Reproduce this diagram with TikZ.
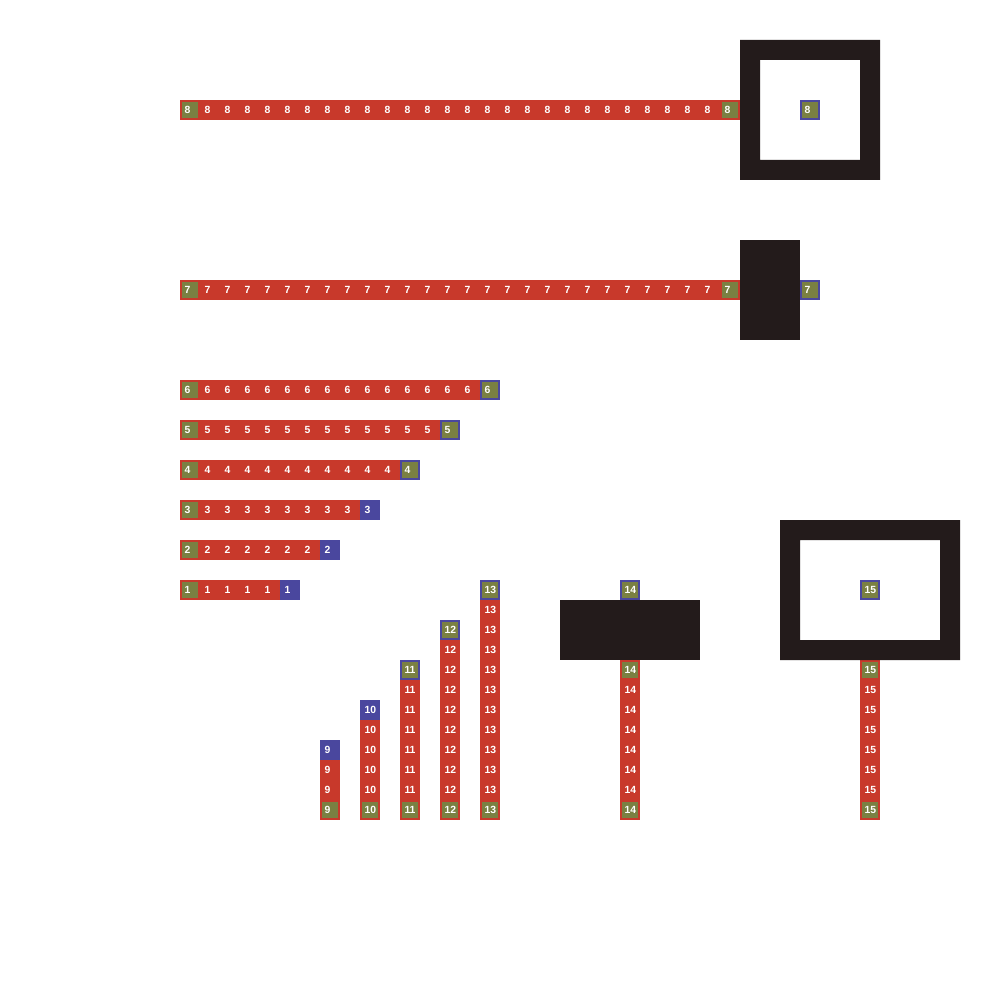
\documentclass[tikz,border=0pt]{standalone}
\usepackage{fontspec}
\setmainfont{Liberation Sans}
\definecolor{cred}{HTML}{C8392B}
\definecolor{colive}{HTML}{7A8042}
\definecolor{cblue}{HTML}{4A479E}
\definecolor{cdark}{HTML}{231B1B}
\begin{document}
\begin{tikzpicture}[x=0.5pt,y=-0.5pt,
 base/.style={minimum size=9pt, inner sep=0pt, line width=1pt, text=white,
   text width=5.5pt, align=left, text height=3.7pt, text depth=0pt,
   font=\fontsize{5.2}{5.2}\selectfont\bfseries},
 rc/.style={base, fill=cred, draw=cred},
 sc/.style={base, fill=colive, draw=cred},
 ec/.style={base, fill=colive, draw=cblue},
 bc/.style={base, fill=cblue, draw=cblue},
 blk/.style={fill=cdark, draw=none}]
\useasboundingbox (0,0) rectangle (1000,1000);
% horizontal rows 1..6
\foreach \k in {1,...,6}{
  \pgfmathtruncatemacro{\yy}{580-(\k-1)*40+10}
  \pgfmathtruncatemacro{\n}{4+2*\k}
  \pgfmathtruncatemacro{\last}{\n-1}
  \pgfmathtruncatemacro{\pen}{\n-2}
  \node[sc] (r\k-0) at (190,\yy) {\k};
  \foreach \i in {1,...,\pen}{
    \node[rc] (r\k-\i) at (190+20*\i,\yy) {\k};
  }
  \ifnum\k<4
    \node[bc] (r\k-\last) at (190+20*\last,\yy) {\k};
  \else
    \node[ec] (r\k-\last) at (190+20*\last,\yy) {\k};
  \fi
}
% rows 7 and 8
\foreach \k/\yy in {7/290,8/110}{
  \node[sc] (r\k-0) at (190,\yy) {\k};
  \foreach \i in {1,...,26}{
    \node[rc] (r\k-\i) at (190+20*\i,\yy) {\k};
  }
  \node[sc] (r\k-27) at (730,\yy) {\k};
  \node[ec] (r\k-end) at (810,\yy) {\k};
}
\fill[blk] (740,240) rectangle (800,340);
\fill[blk, even odd rule] (740,40) rectangle (880,180) (760,60) rectangle (860,160);
% columns 9..13
\foreach \k/\xx/\top in {9/330/740,10/370/700,11/410/660,12/450/620,13/490/580}{
  \node[sc] (c\k-0) at (\xx,810) {\k};
  \pgfmathtruncatemacro{\m}{(800-\top)/20}
  \pgfmathtruncatemacro{\mm}{\m-1}
  \foreach \i in {1,...,\mm}{
    \node[rc] (c\k-\i) at (\xx,810-20*\i) {\k};
  }
  \ifnum\k<11
    \node[bc] (c\k-top) at (\xx,\top+10) {\k};
  \else
    \node[ec] (c\k-top) at (\xx,\top+10) {\k};
  \fi
}
% columns 14 and 15
\foreach \k/\xx in {14/630,15/870}{
  \node[ec] (c\k-top) at (\xx,590) {\k};
  \node[sc] (c\k-a) at (\xx,670) {\k};
  \foreach \i in {1,...,6}{
    \node[rc] (c\k-\i) at (\xx,670+20*\i) {\k};
  }
  \node[sc] (c\k-0) at (\xx,810) {\k};
}
\fill[blk] (560,600) rectangle (700,660);
\fill[blk, even odd rule] (780,520) rectangle (960,660) (800,540) rectangle (940,640);
\end{tikzpicture}
\end{document}
